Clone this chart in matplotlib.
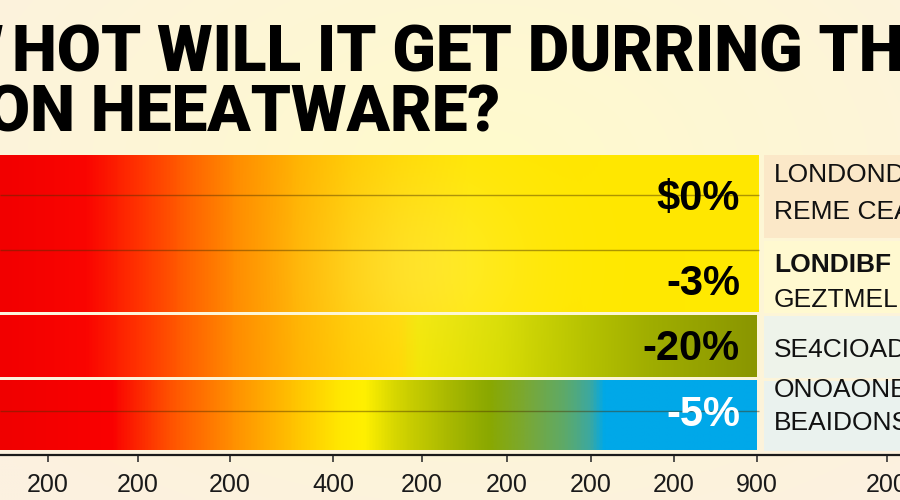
import numpy as np
import matplotlib
matplotlib.use("Agg")
import matplotlib.pyplot as plt
from matplotlib.colors import LinearSegmentedColormap, to_rgb

# ---- data ----
title_lead = "HOW"
title_1 = "HOT WILL IT GET DURRING THE"
title_2 = "LONDON HEEATWARE?"
bar_values = [759, 759, 757, 757]
value_labels = [r"\$0%", "-3%", "-20%", "-5%"]
panel_text = [["LONDONDO", "REME CEA"], ["LONDIBF", "GEZTMELI"],
              ["SE4CIOAD"], ["ONOAONE", "BEAIDONS"]]
tick_pos = [48, 138, 230, 333, 422, 507, 591, 674, 757, 887]
tick_labels = ["200", "200", "200", "400", "200", "200", "200", "200", "900", "200"]

# ---- layout / style (pixel units of a 900x500 canvas) ----
bar_centers = [202.5, 281, 346, 415]
bar_heights = [95, 62, 62, 70]
label_colors = ["black", "black", "black", "white"]
label_y = [199, 284, 349, 415]
panel_rows = [(155, 238, "#fbe8c8"), (241, 313, "#fff9d0"),
              (316, 378, "#eef3ea"), (381, 451, "#eaf2ee")]
panel_line_y = [[175, 212], [265, 300], [350], [390, 423]]
panel_bold = [[False, False], [True, False], [False], [False, False]]

warm = [(0, "#f20000"), (85, "#fa0500"), (135, "#ff3000"), (185, "#ff6000"),
        (235, "#ff8c00"), (300, "#ffb400"), (350, "#ffca00"), (400, "#ffd800"),
        (470, "#ffe600")]
bar_stops = [
    warm + [(759, "#ffe800")],
    warm + [(759, "#ffea00")],
    warm[:-1] + [(420, "#f2e600"), (500, "#d8dc00"), (580, "#b8c400"),
                 (650, "#a0ae00"), (757, "#8a9600")],
    [(0, "#f00000"), (110, "#fa0000"), (167, "#ff5000"), (233, "#ff9000"),
     (300, "#ffc800"), (340, "#ffe800"), (365, "#fff000"), (395, "#d6d600"),
     (450, "#a8b800"), (490, "#8aa800"), (530, "#78a838"), (565, "#5eaa68"),
     (592, "#3ca8a0"), (606, "#00a8e8"), (757, "#00a8ea")],
]
glow = [0.18, 0.22, 0.12, 0.0]

title_font = ["Roboto", "Liberation Sans", "DejaVu Sans"]
plain_font = ["Liberation Sans", "DejaVu Sans"]

fig = plt.figure(figsize=(9, 5), dpi=100)

# background
bg = fig.add_axes([0, 0, 1, 1], zorder=0)
gx, gy = np.meshgrid(np.linspace(0, 900, 300), np.linspace(0, 500, 170))
d = np.clip(np.hypot((gx - 480) / 650, (gy - 170) / 420), 0, 1)[..., None]
bg_img = np.array(to_rgb("#fffbcc")) * (1 - d) + np.array(to_rgb("#fcf1e0")) * d
bg.imshow(bg_img, extent=(0, 900, 500, 0), aspect="auto", interpolation="bilinear")
bg.set_xlim(0, 900)
bg.set_ylim(500, 0)
bg.axis("off")

bg.text(4, 71, title_lead, ha="right", va="baseline", fontsize=46,
        fontweight="black", family=title_font)
bg.text(12, 71, title_1, ha="left", va="baseline", fontsize=46,
        fontweight="black", family=title_font)
bg.text(500, 132, title_2, ha="right", va="baseline", fontsize=46,
        fontweight="black", family=title_font)

# bar axes
ax = fig.add_axes([0, 45 / 500, 1, 302 / 500], zorder=1)
ax.patch.set_alpha(0)
bars = ax.barh(bar_centers, bar_values, height=bar_heights, left=0,
               color="none", edgecolor="none")

for patch, stops, gl in zip(bars.patches, bar_stops, glow):
    x0, y0 = patch.get_x(), patch.get_y()
    w, h = patch.get_width(), patch.get_height()
    cmap = LinearSegmentedColormap.from_list(
        "g", [(p / stops[-1][0], c) for p, c in stops])
    xs = np.linspace(x0, x0 + w, 500)
    ys = np.linspace(y0, y0 + h, 60)
    X, Y = np.meshgrid(xs, ys)
    img = cmap((X - x0) / w)[..., :3]
    g = gl * np.exp(-((X - 420) ** 2 + (Y - 265) ** 2) / (2 * 75 ** 2))
    img = img * (1 - g[..., None]) + np.array([1, 1, 0.75]) * g[..., None]
    im = ax.imshow(img, extent=(x0, x0 + w, y0 + h, y0), aspect="auto",
                   interpolation="bilinear", zorder=1)
    im.set_clip_path(patch)

ax.hlines([195, 250, 411], 0, 759, colors="#4a3000", alpha=0.45, lw=1, zorder=2)

for lab, y, c in zip(value_labels, label_y, label_colors):
    ax.text(740, y, lab, ha="right", va="center", fontsize=30, fontweight="bold",
            color=c, family=plain_font, zorder=3)

for (r0, r1, col), lines, ys, bold in zip(panel_rows, panel_text, panel_line_y, panel_bold):
    ax.axhspan(r0, r1, xmin=764 / 900, xmax=1, color=col, lw=0, zorder=1)
    for t, y, b in zip(lines, ys, bold):
        ax.text(774, y, t, ha="left", va="center", fontsize=19,
                fontweight="bold" if b else "normal", color="#111111",
                family=plain_font, zorder=3)

ax.set_xlim(0, 900)
ax.set_ylim(455, 153)
ax.set_yticks([])
ax.set_xticks(tick_pos, tick_labels, fontsize=18, family=plain_font,
              color="#1a1a1a")
ax.tick_params(axis="x", length=5, width=1.2, color="#333333", pad=8)
for s in ["top", "left", "right"]:
    ax.spines[s].set_visible(False)
ax.spines["bottom"].set_color("#1a1a1a")
ax.spines["bottom"].set_linewidth(1.6)

fig.savefig("out.png", dpi=100)
